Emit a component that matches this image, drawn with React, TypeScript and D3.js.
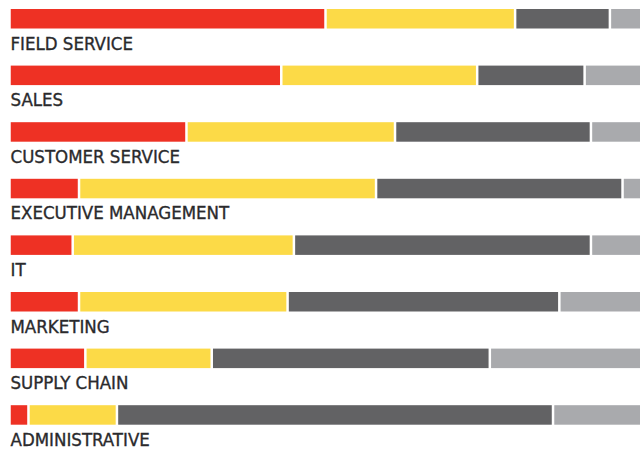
import React from "react";
import * as d3 from "d3";

const categories = [
  "FIELD SERVICE",
  "SALES",
  "CUSTOMER SERVICE",
  "EXECUTIVE MANAGEMENT",
  "IT",
  "MARKETING",
  "SUPPLY CHAIN",
  "ADMINISTRATIVE",
];
const seriesKeys = ["s1", "s2", "s3", "s4"];
const s1 = [50, 43, 28, 11, 10, 11, 12, 3];
const s2 = [30, 31, 33, 47, 35, 33, 20, 14];
const s3 = [15, 17, 31, 39, 47, 43, 44, 69];
const s4 = [5, 9, 8, 3, 8, 13, 24, 14];
const colors = ["#EE3124", "#FCDA47", "#626264", "#A9AAAD"];

export default function App() {
  const W = 640;
  const H = 449;
  const rows = categories.map((c, i) => ({ cat: c, s1: s1[i], s2: s2[i], s3: s3[i], s4: s4[i] }));
  const stack = d3.stack<any>().keys(seriesKeys);
  const layers = stack(rows);
  const x = d3.scaleLinear().domain([0, 100]).range([9.5, 641.5]);
  const y = d3.scaleBand().domain(categories).range([9, 9 + 8 * 56.6]).padding(0);
  const barH = 19.5;
  const inset = 1.25;
  return (
    <svg width={W} height={H} style={{ position: "absolute", left: 0, top: 0 }}>
      {layers.map((layer, li) => (
        <g key={li} fill={colors[li]}>
          {layer.map((d, i) => {
            const x0 = x(d[0]) + inset;
            const x1 = x(d[1]) - inset;
            return (
              <rect key={i} x={x0} y={y(categories[i])} width={Math.max(0, x1 - x0)} height={barH} />
            );
          })}
        </g>
      ))}
      {categories.map((c) => (
        <text
          key={c}
          x={10.5}
          y={(y(c) as number) + 40.5}
          fontFamily="'DejaVu Sans Condensed', 'DejaVu Sans', sans-serif"
          fontSize={18.5}
          fill="#2A2A2C"
          stroke="#2A2A2C"
          strokeWidth={0.35}
        >
          {c}
        </text>
      ))}
    </svg>
  );
}
